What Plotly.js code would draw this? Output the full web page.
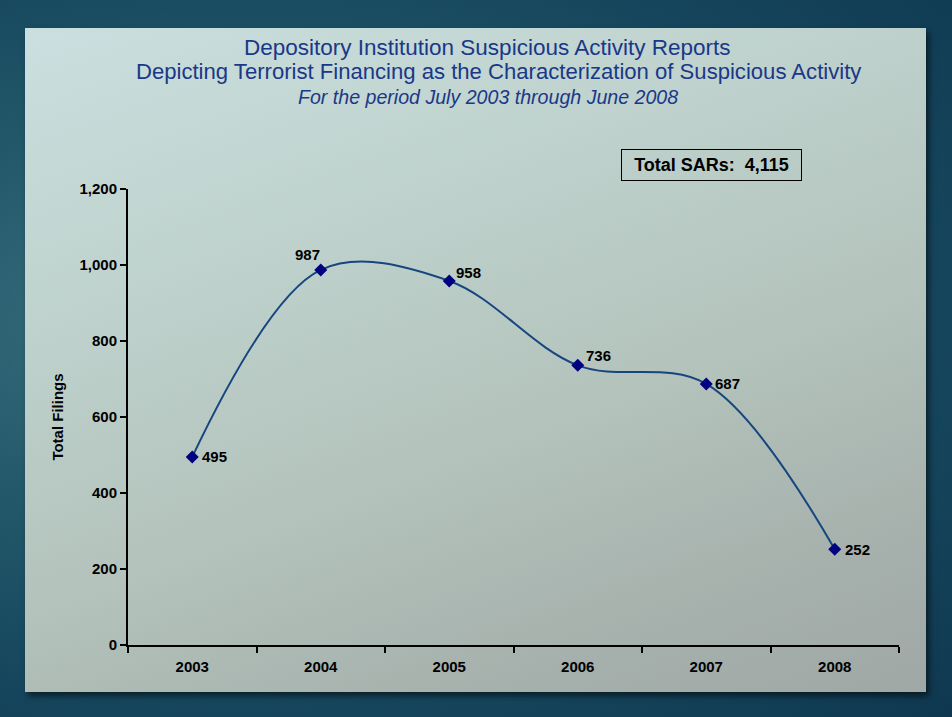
<!DOCTYPE html>
<html>
<head>
<meta charset="utf-8">
<script src="https://cdn.plot.ly/plotly-3.0.1.min.js"></script>
<style>
  html, body { margin:0; padding:0; width:952px; height:717px; overflow:hidden; }
  #bg { position:absolute; left:0; top:0; width:952px; height:717px;
        background: radial-gradient(ellipse at 25% 45%, #3f7583 0%, #245a6b 35%, #15455c 70%, #0f3850 100%); }
  #panel { position:absolute; left:25px; top:28px; width:901px; height:664px;
        background: linear-gradient(160deg, #cadfdf 0%, #bfd2cd 30%, #b3c2bb 60%, #a5afab 85%, #9fa8a5 100%);
        box-shadow: 3px 4px 6px rgba(0,0,0,0.55); }
  #chart { position:absolute; left:0; top:0; width:952px; height:717px; }
</style>
</head>
<body>
<div id="bg"></div>
<div id="panel"></div>
<div id="chart"></div>
<script>
// Data
const years = ['2003', '2004', '2005', '2006', '2007', '2008'];
const filings = [495, 987, 958, 736, 687, 252];
const yTickVals = [0, 200, 400, 600, 800, 1000, 1200];
const yTickText = ['0', '200', '400', '600', '800', '1,000', '1,200'];
const titleLines = [
  'Depository Institution Suspicious Activity Reports',
  'Depicting Terrorist Financing as the Characterization of Suspicious Activity',
  'For the period July 2003 through June 2008'
];
const totalLabel = 'Total SARs:  4,115';
const yTitle = 'Total Filings';

// label offsets (style only)
const labelStyle = [
  {xanchor:'left', yanchor:'middle', xshift:8, yshift:0},
  {xanchor:'center', yanchor:'bottom', xshift:-13, yshift:5},
  {xanchor:'left', yanchor:'middle', xshift:5, yshift:8},
  {xanchor:'left', yanchor:'middle', xshift:6, yshift:10},
  {xanchor:'left', yanchor:'middle', xshift:7, yshift:0},
  {xanchor:'left', yanchor:'middle', xshift:8, yshift:0}
];

const trace = {
  x: years, y: filings, type:'scatter', mode:'lines+markers',
  line: {shape:'spline', smoothing:1.0, color:'#17467f', width:2},
  marker: {symbol:'diamond', size:10, color:'#000080'},
  hoverinfo:'skip', showlegend:false
};

const boldFont = 'Arial, Liberation Sans, sans-serif';
const annotations = filings.map((v, i) => Object.assign({
  x: i, y: v, xref:'x', yref:'y', text: String(v), showarrow:false,
  font:{family:boldFont, size:15, color:'#000000', weight:'bold'}
}, labelStyle[i]));

const titleFont = 'Arial, Liberation Sans, sans-serif';
const titleColor = '#1a3888';
annotations.push(
  {xref:'paper', yref:'paper', x:(487-128)/771, y:1.311, xanchor:'center', yanchor:'middle',
   text: titleLines[0], showarrow:false, font:{family:titleFont, size:22.5, color:titleColor}},
  {xref:'paper', yref:'paper', x:(498-128)/771, y:1.2566, xanchor:'center', yanchor:'middle',
   text: titleLines[1], showarrow:false, font:{family:titleFont, size:22.1, color:titleColor}},
  {xref:'paper', yref:'paper', x:(488-128)/771, y:1.2018, xanchor:'center', yanchor:'middle',
   text: '<i>' + titleLines[2] + '</i>', showarrow:false, font:{family:titleFont, size:19.6, color:titleColor}},
  {xref:'paper', yref:'paper', x:0.639, y:1.0877, xanchor:'left', yanchor:'top',
   text: totalLabel, showarrow:false, width:179, height:30, align:'center', valign:'middle',
   bordercolor:'#000000', borderwidth:1, borderpad:0,
   font:{family:boldFont, size:18, color:'#000000', weight:'bold'}}
);

const axisFont = {family:boldFont, size:15, color:'#000000', weight:'bold'};

const layout = {
  width:952, height:717,
  paper_bgcolor:'rgba(0,0,0,0)', plot_bgcolor:'rgba(0,0,0,0)',
  margin:{l:128, r:53, t:189, b:72},
  xaxis: {
    type:'category', range:[-0.5, 5.5], showline:true, linecolor:'#000000', linewidth:2,
    ticks:'outside', tickson:'boundaries', ticklen:6, tickwidth:2, tickcolor:'#000000',
    ticklabelstandoff:7,
    showgrid:false, zeroline:false, tickfont:axisFont, fixedrange:true
  },
  yaxis: {
    range:[0, 1200], tickvals:yTickVals, ticktext:yTickText,
    showline:true, linecolor:'#000000', linewidth:2,
    ticks:'outside', ticklen:6, tickwidth:2, tickcolor:'#000000',
    showgrid:false, zeroline:false, tickfont:axisFont, fixedrange:true,
    title:{text:yTitle, font:{family:boldFont, size:15, color:'#000000', weight:'bold'}, standoff:12}
  },
  annotations: annotations
};

Plotly.newPlot('chart', [trace], layout, {displayModeBar:false, staticPlot:true});
</script>
</body>
</html>
